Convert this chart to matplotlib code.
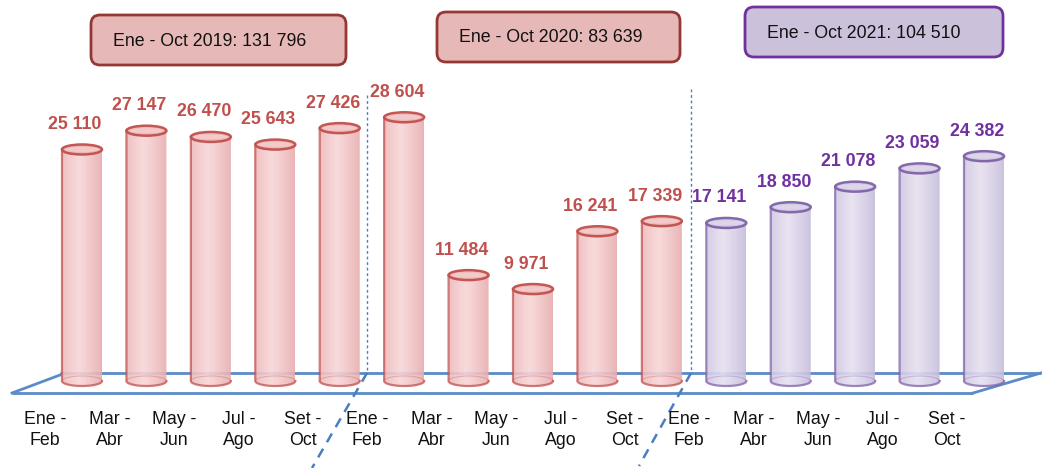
import matplotlib
matplotlib.use('Agg')
import matplotlib.pyplot as plt
import numpy as np
from matplotlib.patches import Ellipse, FancyBboxPatch, PathPatch
from matplotlib.path import Path
from matplotlib.colors import LinearSegmentedColormap
from matplotlib import font_manager
import matplotlib.transforms as mtransforms

# ---------------- data ----------------
periods = ['Ene -\nFeb', 'Mar -\nAbr', 'May -\nJun', 'Jul -\nAgo', 'Set -\nOct']
years = ['2019', '2020', '2021']
values_2019 = [25110, 27147, 26470, 25643, 27426]
values_2020 = [28604, 11484, 9971, 16241, 17339]
values_2021 = [17141, 18850, 21078, 23059, 24382]
totals = [131796, 83639, 104510]

# ---------------- fonts ----------------
names = {f.name for f in font_manager.fontManager.ttflist}
if 'Liberation Sans Narrow' in names:
    FONT = ['Liberation Sans Narrow', 'DejaVu Sans']
    FS_TXT, FS_VAL, LSP = 15, 15, 1.05
else:
    FONT = ['Liberation Sans', 'DejaVu Sans']
    FS_TXT, FS_VAL, LSP = 12.8, 12.8, 1.3
plt.rcParams['font.family'] = FONT


def fmt(n):
    return f"{n:,}".replace(',', ' ')


W, H = 1042, 468
fig = plt.figure(figsize=(W / 100, H / 100), dpi=100)

# pixel geometry of the plotting frame
PX0, PXS = 82.0, 64.43      # centre of first bar, spacing in px
BASE, K = 381.0, 0.00922     # baseline px (from top), px per unit

# overlay axes in pixel coordinates (floor, boxes, separators)
ov = fig.add_axes([0, 0, 1, 1], zorder=0)
ov.set_xlim(0, W)
ov.set_ylim(H, 0)
ov.axis('off')

# main data axes
ax = fig.add_axes([0, 0, 1, 1], zorder=1)
ax.patch.set_alpha(0)
xlim = (-PX0 / PXS, (W - PX0) / PXS)
ylim = ((BASE - H) / K, BASE / K)
ax.axis('off')

# floor
floor_c = '#5B8BC8'
ov.plot([60, 1041], [373, 373], color=floor_c, lw=2, solid_capstyle='butt')
ov.plot([12, 973], [393, 393], color=floor_c, lw=2, solid_capstyle='butt')
ov.plot([12, 60], [393, 375], color=floor_c, lw=2)
ov.plot([973, 1041], [393, 373], color=floor_c, lw=2)

# separators
sep_c = '#4A7EC2'
ov.plot([367, 367], [95, 373], color=sep_c, lw=1, ls=(0, (2, 2)))
ov.plot([367, 312], [373, 468], color=sep_c, lw=1.8, ls=(0, (4, 3)))
ov.plot([691, 691], [89, 373], color=sep_c, lw=1, ls=(0, (2, 2)))
ov.plot([691, 639], [373, 466], color=sep_c, lw=1.8, ls=(0, (4, 3)))

# boxes with totals
box_geom = [(91, 15, 255, 50), (437, 12, 243, 50), (745, 7, 258, 50)]
box_face = ['#E6B9B8', '#E6B9B8', '#CCC1DA']
box_edge = ['#953735', '#953735', '#7030A0']
for (bx, by, bw_, bh), fc, ec, yr, tot in zip(box_geom, box_face, box_edge, years, totals):
    ov.add_patch(FancyBboxPatch((bx, by), bw_, bh,
                                boxstyle='round,pad=0,rounding_size=9',
                                fc=fc, ec=ec, lw=2))
    ov.text(bx + 22, by + bh / 2 + 1, f"Ene - Oct {yr}: {fmt(tot)}",
            ha='left', va='center', fontsize=FS_TXT, color='#111111')

# bars
all_values = values_2019 + values_2020 + values_2021
n = len(all_values)
x = np.arange(n)
red = dict(edge='#C0504D', lo='#E6A8AA', hi='#F8D6D7', top='#EDB5B6', label='#C0504D')
pur = dict(edge='#7F62A8', lo='#C3B8D9', hi='#E6E0F0', top='#CFC6E2', label='#7030A0')
styles = [red] * 10 + [pur] * 5

bw = 40 / PXS            # bar width in x units
eh = 10 / K              # ellipse height in y units

prof = np.linspace(0, 1, 128)
intens = np.clip(1 - np.abs(prof - 0.42) / 0.6, 0, 1) ** 0.8
grad = intens[np.newaxis, :]

for i, v, st in zip(x, all_values, styles):
    cmap = LinearSegmentedColormap.from_list('c', [st['lo'], st['hi']])
    t = np.linspace(np.pi, 2 * np.pi, 40)
    arc = np.column_stack([i + bw / 2 * np.cos(t), eh / 2 * np.sin(t)])
    verts = np.vstack([[[i - bw / 2, v]], arc, [[i + bw / 2, v]], [[i - bw / 2, v]]])
    codes = [Path.MOVETO] + [Path.LINETO] * (len(verts) - 2) + [Path.CLOSEPOLY]
    body = PathPatch(Path(verts, codes), fc='none', ec='none')
    ax.add_patch(body)
    im = ax.imshow(grad, cmap=cmap, extent=(i - bw / 2, i + bw / 2, -eh / 2, v),
                   aspect='auto', zorder=2, alpha=0.9, vmin=0, vmax=1)
    im.set_clip_path(body)
    # outline (sides and bottom arc)
    ax.plot(verts[:-2, 0], verts[:-2, 1], color=st['edge'], lw=1.6, alpha=0.75,
            zorder=3, solid_joinstyle='round')
    # faint back rim of the base
    t2 = np.linspace(0, np.pi, 40)
    ax.plot(i + bw / 2 * np.cos(t2), eh / 2 * np.sin(t2), color=st['edge'], lw=0.8,
            alpha=0.3, zorder=3)
    # top ellipse
    ax.add_patch(Ellipse((i, v), bw, eh, fc=st['top'], ec=st['edge'], lw=1.8,
                         alpha=0.95, zorder=4))
    ax.add_patch(Ellipse((i, v), bw * 0.86, eh * 0.5, fc=st['hi'], ec='none',
                         alpha=0.6, zorder=4))
    # value label
    ax.text(i - 7 / PXS, v + 25 / K, fmt(v), ha='center', va='center',
            fontsize=FS_VAL, fontweight='bold', color=st['label'], zorder=5)

# category labels
trans = mtransforms.blended_transform_factory(ax.transData, ov.transData)
for i in x:
    ax.text(i - 37 / PXS, 430, periods[i % len(periods)], transform=trans,
            ha='center', va='center', fontsize=FS_TXT, color='#111111',
            linespacing=LSP)

ax.set_xlim(*xlim)
ax.set_ylim(*ylim)

fig.savefig('out.png', dpi=100, facecolor='white')
